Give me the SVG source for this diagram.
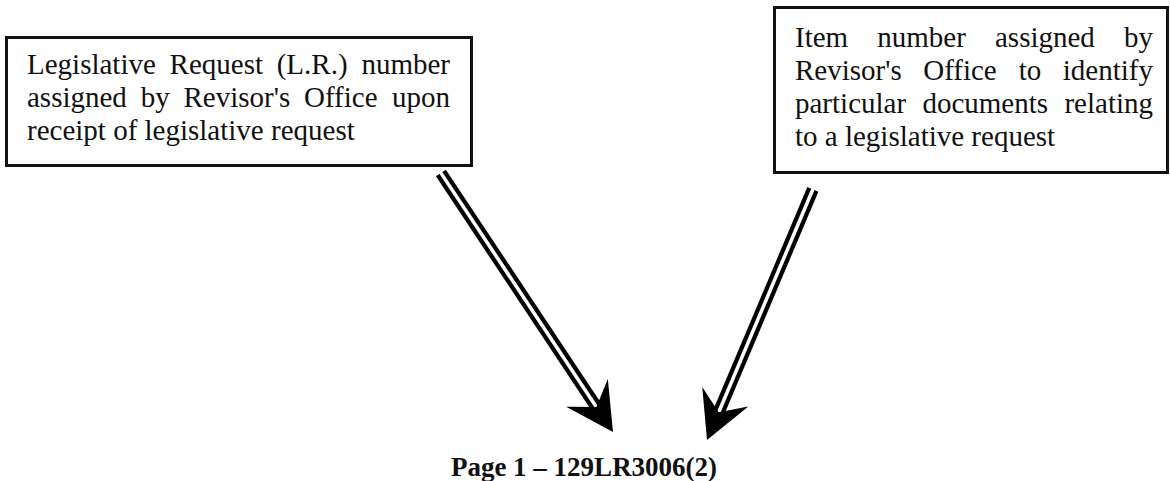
<svg xmlns="http://www.w3.org/2000/svg" xmlns:xlink="http://www.w3.org/1999/xlink" width="1170" height="481" viewBox="0 0 1170 481">
<style>
.box{fill:#fff;stroke:#111;stroke-width:3}
.t{font-family:"Liberation Serif","Times New Roman",serif;font-size:29px;fill:#111}
.b{font-family:"Liberation Serif","Times New Roman",serif;font-size:27px;font-weight:bold;fill:#111}
.so{stroke:#000;stroke-width:12;fill:none}
.si{stroke:#fff;stroke-width:3.5;fill:none}
</style>
<defs>
<path id="head" d="M0,0 L-47,-25 L-30,0 L-47,25 Z" fill="#000"/>
</defs>
<rect width="1170" height="481" fill="#fff"/>
<g id="node-lr">
<rect class="box" x="6.5" y="37.5" width="465" height="128"/>
<text class="t" y="74"><tspan x="27">Legislative</tspan><tspan x="169.6">Request</tspan><tspan x="276.7">(L.R.)</tspan><tspan x="450" text-anchor="end">number</tspan></text>
<text class="t" y="107"><tspan x="27">assigned</tspan><tspan x="140.7">by</tspan><tspan x="183.5">Revisor's</tspan><tspan x="304">Office</tspan><tspan x="450" text-anchor="end">upon</tspan></text>
<text class="t" x="27" y="140">receipt of legislative request</text>
</g>
<g id="node-item">
<rect class="box" x="774.5" y="7.5" width="393" height="165"/>
<text class="t" y="47"><tspan x="795">Item</tspan><tspan x="877.3">number</tspan><tspan x="995">assigned</tspan><tspan x="1153" text-anchor="end">by</tspan></text>
<text class="t" y="80"><tspan x="795">Revisor's</tspan><tspan x="923.2">Office</tspan><tspan x="1018.8">to</tspan><tspan x="1153" text-anchor="end">identify</tspan></text>
<text class="t" y="113"><tspan x="795">particular</tspan><tspan x="922.4">documents</tspan><tspan x="1153" text-anchor="end">relating</tspan></text>
<text class="t" x="795" y="146">to a legislative request</text>
</g>
<g id="node-page">
<text class="b" x="584" y="476" text-anchor="middle">Page 1 – 129LR3006(2)</text>
</g>
<g id="connectors">
<g transform="translate(613,432) rotate(56.4)">
<line class="so" x1="-311" y1="0" x2="-28" y2="0"/>
<line class="si" x1="-312" y1="0" x2="-28" y2="0"/>
<use xlink:href="#head"/>
</g>
<g transform="translate(707,440) rotate(112.9)">
<line class="so" x1="-272" y1="0" x2="-28" y2="0"/>
<line class="si" x1="-273" y1="0" x2="-28" y2="0"/>
<use xlink:href="#head"/>
</g>
</g>
</svg>
